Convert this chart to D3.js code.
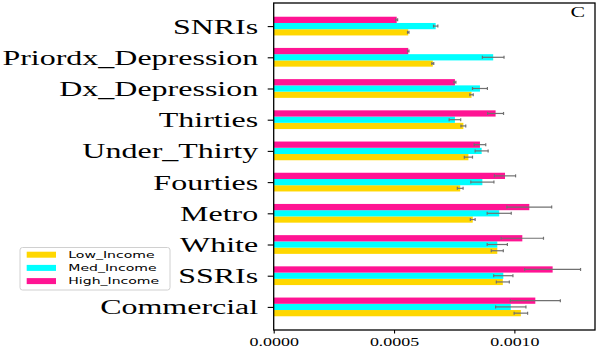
<!DOCTYPE html>
<html>
<head>
<meta charset="utf-8">
<script src="https://cdn.jsdelivr.net/npm/d3@7"></script>
<style>
  body { margin: 0; background: #fff; }
  svg { display: block; }
</style>
</head>
<body>
<script>
// categories, top to bottom
let categories = ['SNRIs', 'Priordx_Depression', 'Dx_Depression', 'Thirties', 'Under_Thirty',
    'Fourties', 'Metro', 'White', 'SSRIs', 'Commercial'];

let seriesNames = ['Low_Income', 'Med_Income', 'High_Income'];
let colors = ['#ffd700', '#00ffff', '#ff1493'];

let lowIncome  = [0.000559, 0.000661, 0.000822, 0.000788, 0.000809, 0.000775, 0.000827, 0.000929, 0.000952, 0.001027];
let medIncome  = [0.000673, 0.000912, 0.000857, 0.000753, 0.000864, 0.000867, 0.000937, 0.000929, 0.000954, 0.000985];
let highIncome = [0.000511, 0.000559, 0.000753, 0.000922, 0.000857, 0.000961, 0.001062, 0.001033, 0.001159, 0.001087];

let lowErr  = [0.000003, 0.000004, 0.000007, 0.000010, 0.000017, 0.000012, 0.000010, 0.000025, 0.000027, 0.000028];
let medErr  = [0.000009, 0.000045, 0.000031, 0.000024, 0.000027, 0.000048, 0.000050, 0.000042, 0.000040, 0.000063];
let highErr = [0.000004, 0.000003, 0.000004, 0.000033, 0.000024, 0.000044, 0.000093, 0.000088, 0.000116, 0.000104];

let xTicks = [0, 0.0005, 0.0010];

let width = 598;
let height = 349;
let margin = {top: 3, right: 3, bottom: 19, left: 273.7};

// the source picture is stretched sideways, so all text is too
let stretch = 1.56;
let serif = '"Liberation Serif", "Times New Roman", serif';

let series = [
    {name: seriesNames[0], values: lowIncome, err: lowErr, color: colors[0], offset: 0.2},
    {name: seriesNames[1], values: medIncome, err: medErr, color: colors[1], offset: 0},
    {name: seriesNames[2], values: highIncome, err: highErr, color: colors[2], offset: -0.2}
];

let svg = d3.select('body')
    .append('svg')
    .attr('width', width)
    .attr('height', height);

let x = d3.scaleLinear()
    .domain([0, 0.001335])
    .range([margin.left, width - margin.right]);

let y = d3.scaleLinear()
    .domain([-0.74, categories.length - 0.26])
    .range([margin.top, height - margin.bottom]);

let barH = y(0.2) - y(0);

let groups = svg.append('g').selectAll('g')
    .data(series)
    .enter().append('g');

groups.selectAll('rect')
    .data(s => s.values.map((v, i) => ({v: v, e: s.err[i], i: i, s: s})))
    .enter().append('rect')
      .attr('x', x(0))
      .attr('y', d => y(d.i + d.s.offset) - barH / 2)
      .attr('width', d => x(d.v) - x(0))
      .attr('height', barH)
      .attr('fill', d => d.s.color);

// error bars
let errs = svg.append('g')
    .attr('stroke', '#707070')
    .attr('stroke-width', 1.2);

series.forEach(s => {
    s.values.forEach((v, i) => {
        let cy = y(i + s.offset);
        let x1 = x(v - s.err[i]);
        let x2 = x(v + s.err[i]);
        errs.append('line').attr('x1', x1).attr('x2', x2).attr('y1', cy).attr('y2', cy);
        errs.append('line').attr('x1', x1).attr('x2', x1).attr('y1', cy - 1.5).attr('y2', cy + 1.5);
        errs.append('line').attr('x1', x2).attr('x2', x2).attr('y1', cy - 1.5).attr('y2', cy + 1.5);
    });
});

// frame
svg.append('rect')
    .attr('x', x.range()[0])
    .attr('y', y.range()[0])
    .attr('width', x.range()[1] - x.range()[0])
    .attr('height', y.range()[1] - y.range()[0])
    .attr('fill', 'none')
    .attr('stroke', '#000')
    .attr('stroke-width', 1.3);

// y axis
let yAxis = svg.append('g')
    .attr('transform', `translate(${x(0)},0)`)
    .call(d3.axisLeft(y)
        .tickValues(d3.range(categories.length))
        .tickFormat(i => categories[i])
        .tickSize(6));
yAxis.select('.domain').remove();
yAxis.selectAll('line').attr('stroke-width', 1.1);
yAxis.selectAll('text')
    .attr('x', 0)
    .attr('dy', '0.34em')
    .attr('transform', `translate(-15.5,0) scale(${stretch},1)`)
    .attr('font-family', serif)
    .attr('font-size', 20.5)
    .attr('fill', '#000');

// x axis
let xAxis = svg.append('g')
    .attr('transform', `translate(0,${y.range()[1]})`)
    .call(d3.axisBottom(x)
        .tickValues(xTicks)
        .tickFormat(d3.format('.4f'))
        .tickSize(3.5));
xAxis.select('.domain').remove();
xAxis.selectAll('line').attr('stroke-width', 1.1);
xAxis.selectAll('text')
    .attr('y', 16)
    .attr('dy', 0)
    .attr('transform', `scale(${stretch},1)`)
    .attr('font-family', serif)
    .attr('font-size', 11.5)
    .attr('fill', '#000');

// panel label
svg.append('text')
    .attr('transform', `translate(585,17) scale(${stretch},1)`)
    .attr('text-anchor', 'end')
    .attr('font-family', serif)
    .attr('font-size', 14)
    .text('C');

// legend
let legend = svg.append('g').attr('transform', 'translate(20,247.5)');
legend.append('rect')
    .attr('width', 150)
    .attr('height', 42.5)
    .attr('rx', 2.5)
    .attr('fill', '#fff')
    .attr('stroke', '#d0d0d0');

let items = legend.selectAll('.item')
    .data(series)
    .enter().append('g')
      .attr('transform', (d, i) => `translate(0,${7.2 + i * 13.2})`);
items.append('rect')
    .attr('x', 6.7)
    .attr('y', -3)
    .attr('width', 29.3)
    .attr('height', 6)
    .attr('fill', d => d.color);
items.append('text')
    .attr('transform', `translate(48.3,3.3) scale(${stretch},1)`)
    .attr('font-family', '"DejaVu Sans", sans-serif')
    .attr('font-size', 9)
    .text(d => d.name);
</script>
</body>
</html>
